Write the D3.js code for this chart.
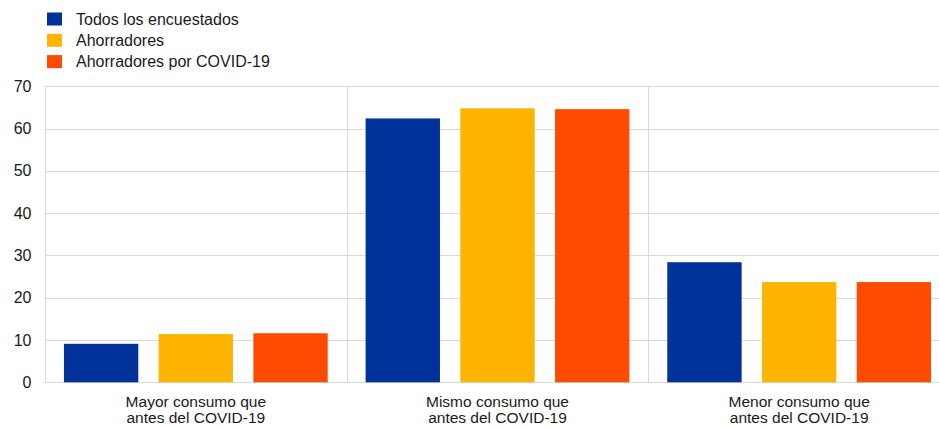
<!DOCTYPE html>
<html>
<head>
<meta charset="utf-8">
<script src="https://cdn.jsdelivr.net/npm/d3@7"></script>
<style>
  html, body { margin: 0; padding: 0; background: #fff; }
  svg { display: block; font-family: Arial, "Liberation Sans", sans-serif; }
</style>
</head>
<body>
<svg id="chart" width="939" height="427"></svg>
<script>
// Consumption compared with before COVID-19, by respondent group (%)
const categories = [
  ["Mayor consumo que", "antes del COVID-19"],
  ["Mismo consumo que", "antes del COVID-19"],
  ["Menor consumo que", "antes del COVID-19"]
];
const seriesNames = ["Todos los encuestados", "Ahorradores", "Ahorradores por COVID-19"];
const todos = [9.1, 62.4, 28.4];
const ahorradores = [11.4, 64.8, 23.7];
const ahorradoresCovid = [11.6, 64.6, 23.7];
const seriesColors = ["#003299", "#FFB400", "#FF4B00"];
const yTicks = [0, 10, 20, 30, 40, 50, 60, 70];

const seriesValues = [todos, ahorradores, ahorradoresCovid];

const svg = d3.select("#chart");
const W = 939;
const margin = { left: 45, top: 86.3, bottom: 382.3, right: 950 };

const x0 = d3.scaleBand()
  .domain(d3.range(categories.length))
  .range([margin.left, margin.right])
  .paddingInner(0).paddingOuter(0);

const x1 = d3.scaleBand()
  .domain(d3.range(seriesNames.length))
  .range([0, x0.bandwidth()])
  .paddingInner(0.215).paddingOuter(0.2);

const y = d3.scaleLinear().domain([0, 70]).range([margin.bottom, margin.top]);

const gridColor = "#d9d9d9";

// horizontal gridlines
svg.append("g")
  .selectAll("line")
  .data(yTicks)
  .join("line")
  .attr("x1", margin.left).attr("x2", W)
  .attr("y1", d => Math.round(y(d)) + 0.5).attr("y2", d => Math.round(y(d)) + 0.5)
  .attr("stroke", gridColor).attr("stroke-width", 1);

// vertical category separators (including left edge)
svg.append("g")
  .selectAll("line")
  .data(d3.range(categories.length))
  .join("line")
  .attr("x1", d => Math.round(x0(d)) + 0.5).attr("x2", d => Math.round(x0(d)) + 0.5)
  .attr("y1", Math.round(y(70)) + 0.5).attr("y2", Math.round(y(0)) + 0.5)
  .attr("stroke", gridColor).attr("stroke-width", 1);

// y tick labels
const yAxis = d3.axisLeft(y).tickValues(yTicks).tickSize(0).tickPadding(13.5);
const ya = svg.append("g")
  .attr("transform", `translate(${margin.left},0)`)
  .call(yAxis);
ya.select(".domain").remove();
ya.selectAll("text")
  .attr("font-size", "16px")
  .attr("font-family", "Arial, 'Liberation Sans', sans-serif")
  .attr("fill", "#1a1a1a");

// bars
const groups = svg.append("g")
  .selectAll("g")
  .data(d3.range(categories.length))
  .join("g")
  .attr("transform", d => `translate(${x0(d)},0)`);

groups.selectAll("rect")
  .data(ci => seriesValues.map((vals, si) => ({ si, v: vals[ci] })))
  .join("rect")
  .attr("x", d => x1(d.si))
  .attr("width", x1.bandwidth())
  .attr("y", d => y(d.v))
  .attr("height", d => y(0) - y(d.v))
  .attr("fill", d => seriesColors[d.si]);

// category labels
const xLabels = svg.append("g")
  .selectAll("text")
  .data(categories)
  .join("text")
  .attr("x", (d, i) => x0(i) + x0.bandwidth() / 2)
  .attr("y", 407.3)
  .attr("text-anchor", "middle")
  .attr("font-size", "15.5px")
  .attr("fill", "#1a1a1a");
xLabels.selectAll("tspan")
  .data(d => d)
  .join("tspan")
  .attr("x", function () { return d3.select(this.parentNode).attr("x"); })
  .attr("dy", (d, i) => i === 0 ? 0 : 16)
  .text(d => d);

// legend
const legend = svg.append("g")
  .selectAll("g")
  .data(seriesNames)
  .join("g")
  .attr("transform", (d, i) => `translate(47,${12.5 + i * 21.3})`);
legend.append("rect")
  .attr("width", 15).attr("height", 13)
  .attr("fill", (d, i) => seriesColors[i]);
legend.append("text")
  .attr("x", 29).attr("y", 12.3)
  .attr("font-size", "16px")
  .attr("fill", "#1a1a1a")
  .text(d => d);
</script>
</body>
</html>
